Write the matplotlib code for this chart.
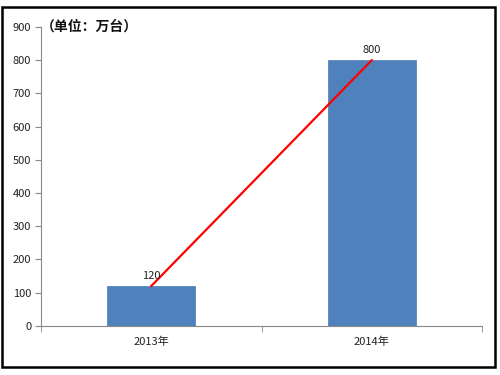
import matplotlib.pyplot as plt
from matplotlib.patches import Rectangle

plt.rcParams['font.family'] = ['Noto Sans CJK SC', 'DejaVu Sans']

years = ['2013年', '2014年']
sales = [120, 800]
yticks = [0, 100, 200, 300, 400, 500, 600, 700, 800, 900]

fig = plt.figure(figsize=(5, 3.75), dpi=100)
ax = fig.add_axes([0.082, 0.131, 0.882, 0.797])

x = list(range(len(years)))
ax.bar(x, sales, width=0.4, color='#4F81BD', edgecolor='#4A7AB5', linewidth=0.5, zorder=2)
ax.plot(x, sales, color='#FF0000', linewidth=1.6, zorder=3)
for xi, v in zip(x, sales):
    ax.text(xi, v + 15, str(v), ha='center', va='bottom', fontsize=8, color='#222222')

ax.set_xlim(-0.5, 1.5)
ax.set_ylim(0, 900)
ax.set_yticks(yticks)
ax.set_yticklabels([str(t) for t in yticks], fontsize=8, color='#222222')
ax.set_xticks(x)
ax.set_xticklabels(years, fontsize=8, color='#222222')
ax.set_xticks([-0.5, 0.5, 1.5], minor=True)
ax.tick_params(axis='x', which='major', length=0, pad=8)
ax.tick_params(axis='x', which='minor', length=4, color='#888888', direction='out')
ax.tick_params(axis='y', length=4, color='#888888', direction='out', pad=3)

for s in ['top', 'right']:
    ax.spines[s].set_visible(False)
ax.spines['left'].set_color('#888888')
ax.spines['bottom'].set_color('#888888')

ax.text(0.0, 1.0, '（单位：万台）', transform=ax.transAxes, ha='left', va='center',
        fontsize=10, fontweight='bold', color='#111111')

fig.patches.append(Rectangle((0.004, 0.021), 0.986, 0.96, transform=fig.transFigure,
                             fill=False, edgecolor='black', linewidth=1.8))

fig.savefig('out.png', dpi=100)
